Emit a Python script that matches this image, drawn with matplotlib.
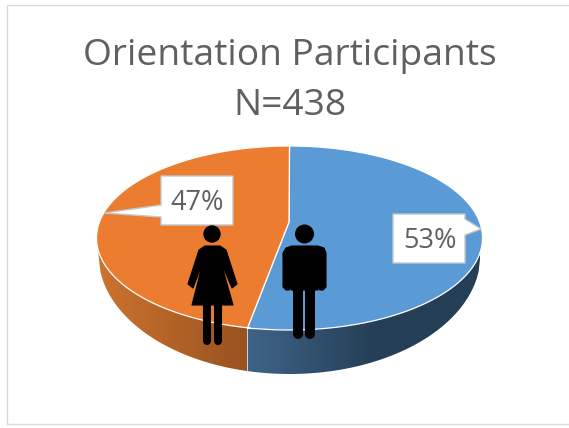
import numpy as np
import matplotlib
matplotlib.use('Agg')
import matplotlib.pyplot as plt
from matplotlib.colors import LinearSegmentedColormap
from matplotlib.patches import Polygon, Rectangle, Circle

labels = ['53%', '47%']
values = [53, 47]
colors = ['#5b9bd5', '#eb7c30']
title_lines = ['Orientation Participants', 'N=438']

W, H = 569, 428
cx, cy, rx, ry = 289.5, 238, 193, 92
apex_y = 222
bot_cy, bot_rx, bot_ry = 255, 191, 119

fig = plt.figure(figsize=(W/100, H/100), dpi=100)
ax = fig.add_axes([0, 0, 1, 1])
ax.set_xlim(0, W)
ax.set_ylim(H, 0)
ax.axis('off')

ax.add_patch(Rectangle((7, 5), 570, 419, fc='white', ec='#d9d9d9', lw=1))

ax.text(289.5, 55.5, title_lines[0], ha='center', va='center', fontsize=26.8, color='#606060', family='Open Sans')
ax.text(289.5, 105.5, title_lines[1], ha='center', va='center', fontsize=26.8, color='#606060', family='Open Sans')

# side of the pie, gradient clipped to the shape under the top ellipse
split = 2*np.pi*values[0]/sum(values)
split_x = cx + rx*np.sin(split) - 6
split_y = cy - ry*np.cos(split)

xs = np.linspace(cx-bot_rx, cx+bot_rx, 200)
bot = bot_cy + bot_ry*np.sqrt(np.clip(1-((xs-cx)/bot_rx)**2, 0, 1))
side = np.column_stack([np.r_[xs, xs[::-1]], np.r_[bot, np.full(200, cy)]])

grad = LinearSegmentedColormap.from_list('side', [
    (0, '#cc7330'), ((split_x-xs[0])/(xs[-1]-xs[0])-0.001, '#99521f'),
    ((split_x-xs[0])/(xs[-1]-xs[0]), '#3f6489'), (0.72, '#253f56'), (1, '#253f56')])
im = ax.imshow(np.linspace(0, 1, 600)[None, :], cmap=grad, aspect='auto',
               extent=[xs[0], xs[-1], 380, 230], zorder=2)
clip = Polygon(side, transform=ax.transData, fc='none', ec='none')
ax.add_patch(clip)
im.set_clip_path(clip)
ax.set_xlim(0, W)
ax.set_ylim(H, 0)
ax.plot([split_x, split_x], [split_y, 372], color='#e8e8e8', lw=0.6, zorder=3)

# top face
start = 0
for v, c in zip(values, colors):
    a = np.linspace(start, start + 2*np.pi*v/sum(values), 200)
    px = cx + rx*np.sin(a)
    py = cy - ry*np.cos(a)
    px = np.where(np.abs(a-split) < 1e-9, split_x, px)
    ax.add_patch(Polygon(np.column_stack([np.r_[cx-0.5, px], np.r_[apex_y, py]]),
                         fc=c, ec='white', lw=0.9, zorder=4, joinstyle='round'))
    start += 2*np.pi*v/sum(values)

# data labels with callout pointers
ax.add_patch(Polygon([(161, 176), (233, 176), (233, 225), (161, 225), (161, 217), (104, 213), (161, 205)],
                     fc='white', ec='#c4c8cc', lw=1, zorder=5))
ax.add_patch(Polygon([(393, 214), (465, 214), (465, 219), (481, 229), (465, 235), (465, 263), (393, 263)],
                     fc='white', ec='#c4c8cc', lw=1, zorder=5))
ax.text(197.5, 202.5, labels[1], ha='center', va='center', fontsize=19.5, color='#606060', family='Open Sans', zorder=6)
ax.text(430, 240.5, labels[0], ha='center', va='center', fontsize=19.5, color='#606060', family='Open Sans', zorder=6)

# woman
ax.add_patch(Circle((212, 234), 8.7, fc='black', ec='none', zorder=7))
ax.add_patch(Polygon([(205, 246), (220, 246), (226, 250), (237, 284), (232, 288), (221, 262),
                      (233, 305), (192, 305), (203, 262), (193, 288), (188, 284), (199, 250)],
                     fc='black', ec='black', lw=0.8, joinstyle='round', zorder=7))
for lx in [207.5, 218]:
    ax.plot([lx, lx], [303, 341], color='black', lw=5.8, solid_capstyle='round', zorder=7)

# man
ax.add_patch(Circle((304.5, 234), 9.5, fc='black', ec='none', zorder=7))
ax.add_patch(Polygon([(292, 246), (318, 246), (324, 248), (326, 253), (326, 287), (323, 290), (320, 290), (318, 287),
                      (318, 290), (291, 290), (291, 287), (289, 290), (286, 290), (283, 287), (283, 253), (286, 248)],
                     fc='black', ec='black', lw=0.8, joinstyle='round', zorder=7))
for lx in [298.5, 310.5]:
    ax.plot([lx, lx], [285, 334], color='black', lw=7.2, solid_capstyle='round', zorder=7)

fig.savefig('out.png', dpi=100, facecolor='white')
